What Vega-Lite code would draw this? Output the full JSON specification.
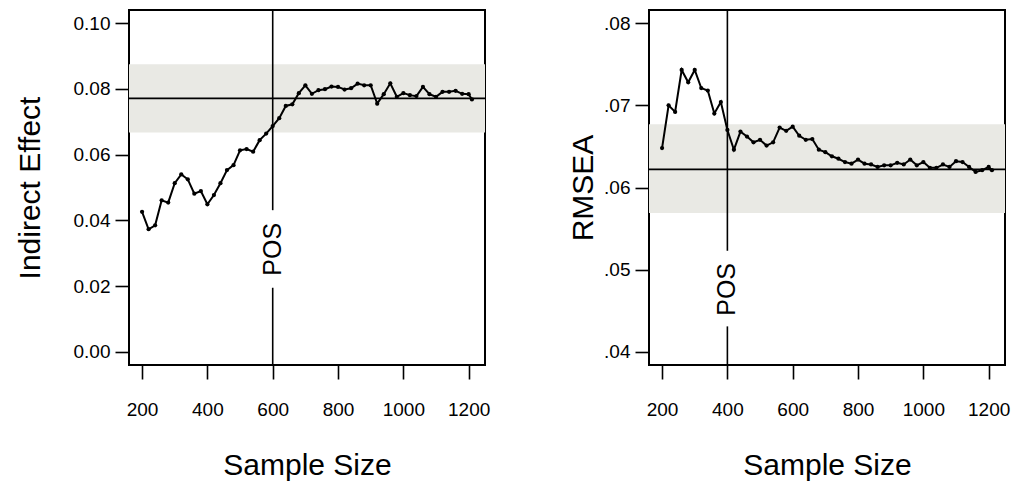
{
  "$schema": "https://vega.github.io/schema/vega-lite/v6.json",
  "padding": {"left": 14, "top": 8, "right": 5, "bottom": 5},
  "background": "white",
  "bounds": "flush",
  "spacing": 164,
  "config": {
    "view": {"stroke": "black", "strokeWidth": 2},
    "font": "Liberation Sans",
    "axis": {
      "domain": false, "grid": false, "ticks": true, "tickColor": "black", "tickSize": 14, "tickWidth": 1.6,
      "labelFont": "Liberation Sans", "labelFontSize": 19, "labelColor": "black",
      "titleFont": "Liberation Sans", "titleFontSize": 30, "titleFontWeight": "normal", "titleColor": "black"
    }
  },
  "datasets": {
    "left_line": [
      {"n": 200, "v": 0.0426}, {"n": 220, "v": 0.0373}, {"n": 240, "v": 0.0385}, {"n": 260, "v": 0.0461},
      {"n": 280, "v": 0.0454}, {"n": 300, "v": 0.0513}, {"n": 320, "v": 0.0540}, {"n": 340, "v": 0.0525},
      {"n": 360, "v": 0.0481}, {"n": 380, "v": 0.0489}, {"n": 400, "v": 0.0449}, {"n": 420, "v": 0.0477},
      {"n": 440, "v": 0.0513}, {"n": 460, "v": 0.0553}, {"n": 480, "v": 0.0568}, {"n": 500, "v": 0.0613},
      {"n": 520, "v": 0.0617}, {"n": 540, "v": 0.0609}, {"n": 560, "v": 0.0644}, {"n": 580, "v": 0.0664},
      {"n": 600, "v": 0.0687}, {"n": 620, "v": 0.0711}, {"n": 640, "v": 0.0748}, {"n": 660, "v": 0.0753},
      {"n": 680, "v": 0.0787}, {"n": 700, "v": 0.0811}, {"n": 720, "v": 0.0785}, {"n": 740, "v": 0.0796},
      {"n": 760, "v": 0.0799}, {"n": 780, "v": 0.0807}, {"n": 800, "v": 0.0806}, {"n": 820, "v": 0.0798},
      {"n": 840, "v": 0.0802}, {"n": 860, "v": 0.0816}, {"n": 880, "v": 0.0811}, {"n": 900, "v": 0.0811},
      {"n": 920, "v": 0.0755}, {"n": 940, "v": 0.0784}, {"n": 960, "v": 0.0817}, {"n": 980, "v": 0.0776},
      {"n": 1000, "v": 0.0787}, {"n": 1020, "v": 0.0781}, {"n": 1040, "v": 0.0778}, {"n": 1060, "v": 0.0806},
      {"n": 1080, "v": 0.0784}, {"n": 1100, "v": 0.0776}, {"n": 1120, "v": 0.0791}, {"n": 1140, "v": 0.0791},
      {"n": 1160, "v": 0.0794}, {"n": 1180, "v": 0.0785}, {"n": 1200, "v": 0.0784}, {"n": 1210, "v": 0.0768}
    ],
    "right_line": [
      {"n": 200, "v": 0.0648}, {"n": 220, "v": 0.0700}, {"n": 240, "v": 0.0692}, {"n": 260, "v": 0.0743},
      {"n": 280, "v": 0.0728}, {"n": 300, "v": 0.0743}, {"n": 320, "v": 0.0721}, {"n": 340, "v": 0.0718},
      {"n": 360, "v": 0.0690}, {"n": 380, "v": 0.0704}, {"n": 400, "v": 0.0670}, {"n": 420, "v": 0.0646},
      {"n": 440, "v": 0.0668}, {"n": 460, "v": 0.0662}, {"n": 480, "v": 0.0655}, {"n": 500, "v": 0.0658},
      {"n": 520, "v": 0.0651}, {"n": 540, "v": 0.0655}, {"n": 560, "v": 0.0673}, {"n": 580, "v": 0.0669},
      {"n": 600, "v": 0.0674}, {"n": 620, "v": 0.0663}, {"n": 640, "v": 0.0658}, {"n": 660, "v": 0.0659},
      {"n": 680, "v": 0.0646}, {"n": 700, "v": 0.0643}, {"n": 720, "v": 0.0638}, {"n": 740, "v": 0.0635},
      {"n": 760, "v": 0.0631}, {"n": 780, "v": 0.0629}, {"n": 800, "v": 0.0634}, {"n": 820, "v": 0.0629},
      {"n": 840, "v": 0.0628}, {"n": 860, "v": 0.0625}, {"n": 880, "v": 0.0627}, {"n": 900, "v": 0.0627},
      {"n": 920, "v": 0.0630}, {"n": 940, "v": 0.0628}, {"n": 960, "v": 0.0634}, {"n": 980, "v": 0.0627},
      {"n": 1000, "v": 0.0631}, {"n": 1020, "v": 0.0624}, {"n": 1040, "v": 0.0624}, {"n": 1060, "v": 0.0628},
      {"n": 1080, "v": 0.0625}, {"n": 1100, "v": 0.0632}, {"n": 1120, "v": 0.0631}, {"n": 1140, "v": 0.0625},
      {"n": 1160, "v": 0.0619}, {"n": 1180, "v": 0.0621}, {"n": 1200, "v": 0.0625}, {"n": 1210, "v": 0.0621}
    ],
    "left_ref": [{"ref": 0.0771, "lo": 0.0667, "hi": 0.0875}],
    "right_ref": [{"ref": 0.0622, "lo": 0.0569, "hi": 0.0677}],
    "left_seg": [{"x": 600, "y1": 0.104, "y2": 0.0431}, {"x": 600, "y1": 0.0195, "y2": -0.004}],
    "right_seg": [{"x": 400, "y1": 0.0816, "y2": 0.0523}, {"x": 400, "y1": 0.0431, "y2": 0.0384}],
    "left_lab": [{"x": 600, "y": 0.0312, "label": "POS"}],
    "right_lab": [{"x": 400, "y": 0.0476, "label": "POS"}]
  },
  "hconcat": [
    {
      "width": 356, "height": 355,
      "layer": [
        {
          "data": {"name": "left_ref"},
          "mark": {"type": "rect", "color": "#e9e9e4"},
          "encoding": {
            "y": {"field": "lo", "type": "quantitative", "scale": {"domain": [-0.004, 0.104], "nice": false, "zero": false}, "title": "Indirect Effect"},
            "y2": {"field": "hi"}
          }
        },
        {
          "data": {"name": "left_ref"},
          "mark": {"type": "rule", "color": "black", "strokeWidth": 1.6},
          "encoding": {
            "y": {"field": "ref", "type": "quantitative", "scale": {"domain": [-0.004, 0.104], "nice": false, "zero": false}, "title": "Indirect Effect"}
          }
        },
        {
          "data": {"name": "left_seg"},
          "mark": {"type": "rule", "color": "black", "strokeWidth": 1.6},
          "encoding": {
            "x": {"field": "x", "type": "quantitative", "scale": {"domain": [160, 1250], "nice": false, "zero": false}, "title": "Sample Size"},
            "y": {"field": "y1", "type": "quantitative", "scale": {"domain": [-0.004, 0.104], "nice": false, "zero": false}, "title": "Indirect Effect"},
            "y2": {"field": "y2"}
          }
        },
        {
          "data": {"name": "left_lab"},
          "mark": {"type": "text", "angle": 270, "align": "center", "baseline": "middle", "fontSize": 25, "font": "Liberation Sans", "color": "black"},
          "encoding": {
            "x": {"field": "x", "type": "quantitative", "scale": {"domain": [160, 1250], "nice": false, "zero": false}, "title": "Sample Size"},
            "y": {"field": "y", "type": "quantitative", "scale": {"domain": [-0.004, 0.104], "nice": false, "zero": false}, "title": "Indirect Effect"},
            "text": {"field": "label"}
          }
        },
        {
          "data": {"name": "left_line"},
          "mark": {"type": "line", "color": "black", "strokeWidth": 2, "point": {"filled": true, "color": "black", "size": 18}},
          "encoding": {
            "x": {"field": "n", "type": "quantitative", "scale": {"domain": [160, 1250], "nice": false, "zero": false}, "title": "Sample Size",
                  "axis": {"values": [200, 400, 600, 800, 1000, 1200], "format": "d", "labelPadding": 21, "titlePadding": 31}},
            "y": {"field": "v", "type": "quantitative", "scale": {"domain": [-0.004, 0.104], "nice": false, "zero": false}, "title": "Indirect Effect",
                  "axis": {"values": [0, 0.02, 0.04, 0.06, 0.08, 0.1], "format": ".2f", "labelPadding": 5, "titlePadding": 28}}
          }
        }
      ]
    },
    {
      "width": 356, "height": 355,
      "layer": [
        {
          "data": {"name": "right_ref"},
          "mark": {"type": "rect", "color": "#e9e9e4"},
          "encoding": {
            "y": {"field": "lo", "type": "quantitative", "scale": {"domain": [0.0384, 0.0816], "nice": false, "zero": false}, "title": "RMSEA"},
            "y2": {"field": "hi"}
          }
        },
        {
          "data": {"name": "right_ref"},
          "mark": {"type": "rule", "color": "black", "strokeWidth": 1.6},
          "encoding": {
            "y": {"field": "ref", "type": "quantitative", "scale": {"domain": [0.0384, 0.0816], "nice": false, "zero": false}, "title": "RMSEA"}
          }
        },
        {
          "data": {"name": "right_seg"},
          "mark": {"type": "rule", "color": "black", "strokeWidth": 1.6},
          "encoding": {
            "x": {"field": "x", "type": "quantitative", "scale": {"domain": [160, 1250], "nice": false, "zero": false}, "title": "Sample Size"},
            "y": {"field": "y1", "type": "quantitative", "scale": {"domain": [0.0384, 0.0816], "nice": false, "zero": false}, "title": "RMSEA"},
            "y2": {"field": "y2"}
          }
        },
        {
          "data": {"name": "right_lab"},
          "mark": {"type": "text", "angle": 270, "align": "center", "baseline": "middle", "fontSize": 25, "font": "Liberation Sans", "color": "black"},
          "encoding": {
            "x": {"field": "x", "type": "quantitative", "scale": {"domain": [160, 1250], "nice": false, "zero": false}, "title": "Sample Size"},
            "y": {"field": "y", "type": "quantitative", "scale": {"domain": [0.0384, 0.0816], "nice": false, "zero": false}, "title": "RMSEA"},
            "text": {"field": "label"}
          }
        },
        {
          "data": {"name": "right_line"},
          "mark": {"type": "line", "color": "black", "strokeWidth": 2, "point": {"filled": true, "color": "black", "size": 18}},
          "encoding": {
            "x": {"field": "n", "type": "quantitative", "scale": {"domain": [160, 1250], "nice": false, "zero": false}, "title": "Sample Size",
                  "axis": {"values": [200, 400, 600, 800, 1000, 1200], "format": "d", "labelPadding": 21, "titlePadding": 31}},
            "y": {"field": "v", "type": "quantitative", "scale": {"domain": [0.0384, 0.0816], "nice": false, "zero": false}, "title": "RMSEA",
                  "axis": {"values": [0.04, 0.05, 0.06, 0.07, 0.08], "labelExpr": "substring(format(datum.value, '.2f'), 1)", "labelPadding": 5, "titlePadding": 5}}
          }
        }
      ]
    }
  ]
}
